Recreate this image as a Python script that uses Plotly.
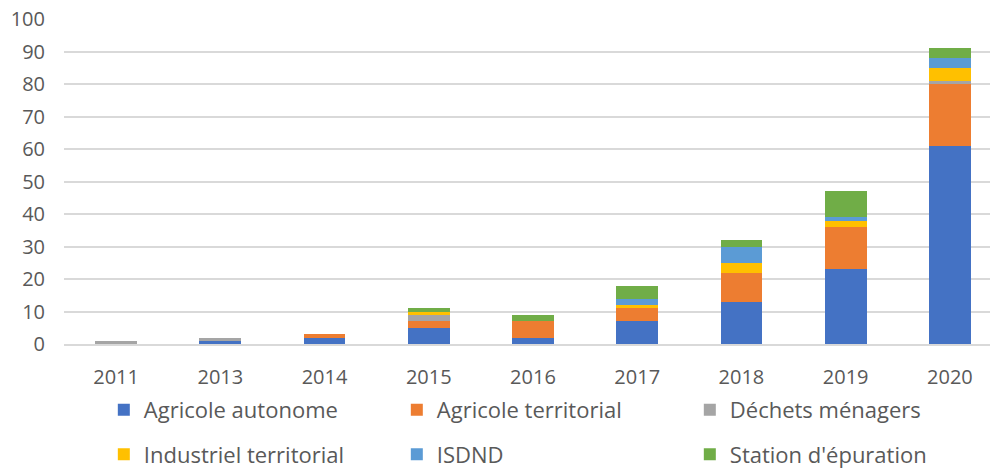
import plotly.graph_objects as go

years = ["2011", "2013", "2014", "2015", "2016", "2017", "2018", "2019", "2020"]
agricole_autonome = [0, 1, 2, 5, 2, 7, 13, 23, 61]
agricole_territorial = [0, 0, 1, 2, 5, 4, 9, 13, 19]
dechets_menagers = [1, 1, 0, 2, 0, 0, 0, 0, 1]
industriel_territorial = [0, 0, 0, 1, 0, 1, 3, 2, 4]
isdnd = [0, 0, 0, 0, 0, 2, 5, 1, 3]
station_epuration = [0, 0, 0, 1, 2, 4, 2, 8, 3]

series = [
    ("Agricole autonome", agricole_autonome, "#4472C4", "legend"),
    ("Agricole territorial", agricole_territorial, "#ED7D31", "legend"),
    ("Déchets ménagers", dechets_menagers, "#A5A5A5", "legend"),
    ("Industriel territorial", industriel_territorial, "#FFC000", "legend2"),
    ("ISDND", isdnd, "#5B9BD5", "legend2"),
    ("Station d'épuration", station_epuration, "#70AD47", "legend2"),
]

FONT = "Open Sans"
TXT = "#595959"

fig = go.Figure()
for name, vals, col, lg in series:
    fig.add_trace(go.Bar(x=years, y=vals, name=name, marker=dict(color=col, line=dict(width=0)),
                         legend=lg))

leg_common = dict(orientation="h", xanchor="left", yanchor="middle", entrywidth=248,
                  entrywidthmode="pixels", font=dict(family=FONT, size=22, color=TXT),
                  bgcolor="rgba(0,0,0,0)", traceorder="normal", itemwidth=30)

fig.update_layout(
    width=990, height=468,
    margin=dict(l=64, r=0, t=19, b=124, autoexpand=False),
    barmode="stack", bargap=0.6,
    plot_bgcolor="white", paper_bgcolor="white",
    font=dict(family=FONT, size=20, color=TXT),
    legend=dict(x=0.043, y=-0.203, **leg_common),
    legend2=dict(x=0.043, y=-0.340, **leg_common),
    xaxis=dict(type="category", range=[-0.5, 8.385], showgrid=False, showline=True,
               linecolor="#d9d9d9", linewidth=1.5, ticks="", ticklabelstandoff=14,
               tickfont=dict(family=FONT, size=20, color=TXT)),
    yaxis=dict(range=[0, 100], dtick=10, showgrid=True, gridcolor="#d9d9d9", gridwidth=1.5,
               zeroline=False, ticks="", ticklabelstandoff=18, ticklabeloverflow="allow",
               tickfont=dict(family=FONT, size=20, color=TXT)),
)

fig.write_html("out.html", config={"displayModeBar": False},
               post_script="document.body.style.margin='0';")
